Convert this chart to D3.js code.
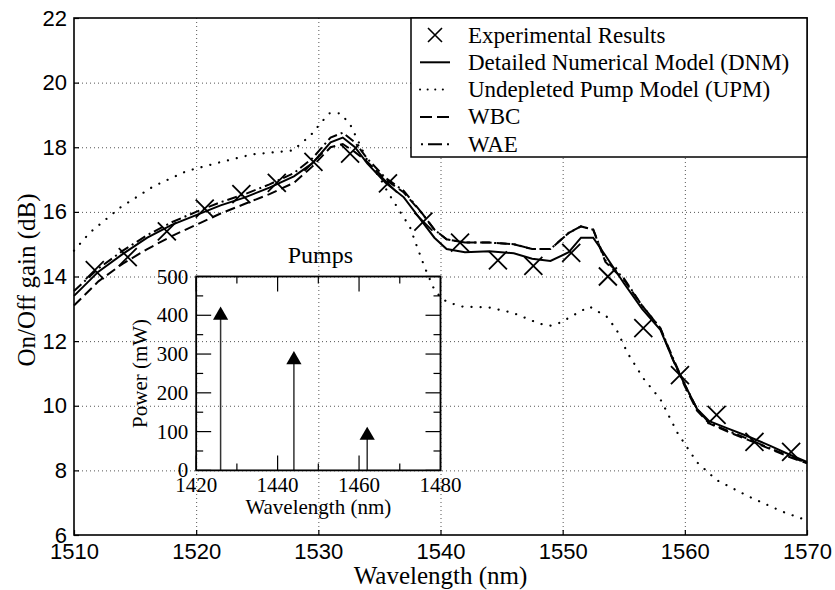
<!DOCTYPE html>
<html>
<head>
<meta charset="utf-8">
<script src="https://d3js.org/d3.v7.min.js"></script>
<style>
  body { margin: 0; background: #fff; }
  svg { font-family: "Liberation Serif", "Times New Roman", serif; }
</style>
</head>
<body>
<svg></svg>
<script>
const w = 835;
const h = 590;
const margin = { left: 74, right: 28, top: 18, bottom: 55 };

// experimental points
const expWl = [1511.7, 1514.4, 1517.6, 1520.7, 1523.7, 1526.6, 1529.6, 1532.6, 1535.7, 1538.6,
    1541.6, 1544.7, 1547.6, 1550.7, 1553.7, 1556.6, 1559.6, 1562.6, 1565.7, 1568.7];
const expGain = [14.2, 14.6, 15.4, 16.1, 16.55, 16.9, 17.55, 17.8, 16.88, 15.7,
    15.05, 14.5, 14.33, 14.73, 14.0, 12.4, 10.95, 9.72, 8.88, 8.57];

// model curves share one wavelength grid
const modelWl = [1510, 1512, 1514, 1516, 1518, 1520, 1522, 1524, 1526, 1528, 1529.5, 1531, 1532, 1533,
    1534, 1535.5, 1537, 1538.5, 1539.5, 1540.5, 1542, 1544, 1546, 1547.5, 1549, 1550.5, 1551.5,
    1552.5, 1553.5, 1555, 1556.5, 1558, 1559, 1560, 1561, 1562, 1563.5, 1565, 1567, 1568.5, 1570];
const dnmGain = [13.4, 14.15, 14.7, 15.2, 15.6, 15.9, 16.2, 16.45, 16.75, 17.1, 17.5, 18.15, 18.3, 18.0,
    17.5, 16.9, 16.45, 15.7, 15.2, 14.85, 14.75, 14.78, 14.72, 14.55, 14.48, 14.75, 15.2,
    15.2, 14.65, 13.8, 13.0, 12.35, 11.45, 10.65, 9.9, 9.52, 9.3, 9.08, 8.76, 8.5, 8.26];
const wbcGain = [13.1, 13.85, 14.4, 14.85, 15.25, 15.6, 15.95, 16.25, 16.55, 16.9, 17.4, 18.0, 18.1, 17.85,
    17.55, 17.0, 16.6, 15.95, 15.45, 15.15, 15.05, 15.05, 15.0, 14.85, 14.85, 15.35, 15.55,
    15.45, 14.45, 13.9, 13.1, 12.4, 11.45, 10.6, 9.85, 9.45, 9.2, 8.97, 8.66, 8.42, 8.22];
const waeGain = [13.55, 14.25, 14.8, 15.28, 15.68, 16.0, 16.3, 16.55, 16.85, 17.2, 17.65, 18.3, 18.45, 18.15,
    17.65, 17.05, 16.65, 15.95, 15.45, 15.15, 15.05, 15.05, 15.0, 14.85, 14.85, 15.35, 15.55,
    15.45, 14.5, 13.95, 13.1, 12.4, 11.5, 10.65, 9.9, 9.47, 9.23, 9.0, 8.68, 8.45, 8.23];

// undepleted pump model
const upmWl = [1510, 1511.3, 1513.8, 1516.5, 1519.2, 1521.9, 1524.6, 1527.9, 1528.7, 1529.6, 1530.1,
    1530.9, 1531.8, 1532.6, 1533.3, 1534.0, 1535.0, 1535.7, 1536.6, 1537.5, 1538.1, 1538.7, 1539.4,
    1540.0, 1540.6, 1541.8, 1544.0, 1545.9, 1548.1, 1549.0, 1549.8, 1551.4, 1552.2, 1553.6, 1554.4,
    1555.3, 1556.6, 1558.0, 1559.4, 1561.0, 1562.6, 1565.3, 1568.0, 1570];
const upmGain = [14.8, 15.36, 16.14, 16.79, 17.26, 17.53, 17.78, 17.9, 18.15, 18.46, 18.71,
    19.05, 19.05, 18.71, 18.16, 17.6, 17.08, 16.6, 16.06, 15.53, 14.9, 14.29, 13.67,
    13.35, 13.2, 13.07, 13.04, 12.88, 12.54, 12.48, 12.57, 12.91, 13.07, 12.76, 12.36,
    11.64, 10.85, 10.2, 9.16, 8.25, 7.7, 7.18, 6.72, 6.45];

// pumps (inset)
const pumpWl = [1426, 1444, 1462];
const pumpPower = [400, 285, 90];

const xTicks = [1510, 1520, 1530, 1540, 1550, 1560, 1570];
const yTicks = [6, 8, 10, 12, 14, 16, 18, 20, 22];
const insetXTicks = [1420, 1440, 1460, 1480];
const insetYTicks = [0, 100, 200, 300, 400, 500];

const legendLabels = ['Experimental Results', 'Detailed Numerical Model (DNM)',
    'Undepleted Pump Model (UPM)', 'WBC', 'WAE'];

const svg = d3.select('svg').attr('width', w).attr('height', h);

const xScale = d3.scaleLinear().domain([1510, 1570]).range([margin.left, w - margin.right]);
const yScale = d3.scaleLinear().domain([6, 22]).range([h - margin.bottom, margin.top]);

const dashStyles = {
    dnm: null,
    upm: '0.1,9',
    wbc: '10,5',
    wae: '10,4,2,4'
};

// grid
svg.append('g')
    .attr('transform', 'translate(0,' + (h - margin.bottom) + ')')
    .call(d3.axisBottom(xScale).tickValues(xTicks.slice(1, -1)).tickSize(-(h - margin.top - margin.bottom)).tickFormat(''))
    .call((g) => g.select('.domain').remove())
    .selectAll('line').attr('stroke', '#555').attr('stroke-dasharray', '1,3');
svg.append('g')
    .attr('transform', 'translate(' + margin.left + ',0)')
    .call(d3.axisLeft(yScale).tickValues(yTicks.slice(1, -1)).tickSize(-(w - margin.left - margin.right)).tickFormat(''))
    .call((g) => g.select('.domain').remove())
    .selectAll('line').attr('stroke', '#555').attr('stroke-dasharray', '1,3');

// axes
const xAxis = svg.append('g')
    .attr('transform', 'translate(0,' + (h - margin.bottom) + ')')
    .call(d3.axisBottom(xScale).tickValues(xTicks).tickSize(-5).tickPadding(8).tickFormat(d3.format('d')));
const yAxis = svg.append('g')
    .attr('transform', 'translate(' + margin.left + ',0)')
    .call(d3.axisLeft(yScale).tickValues(yTicks).tickSize(-5).tickPadding(7).tickFormat(d3.format('d')));
[xAxis, yAxis].forEach((g) => {
    g.selectAll('text').attr('font-size', 22).attr('font-family', null).attr('fill', '#000');
    g.selectAll('line').attr('stroke', '#000').attr('stroke-width', 1.2);
    g.select('.domain').remove();
});

svg.append('rect')
    .attr('x', margin.left).attr('y', margin.top)
    .attr('width', w - margin.left - margin.right)
    .attr('height', h - margin.top - margin.bottom)
    .attr('fill', 'none').attr('stroke', '#000').attr('stroke-width', 1.6);

svg.append('text')
    .attr('x', (margin.left + w - margin.right) / 2).attr('y', 584)
    .attr('text-anchor', 'middle').attr('font-size', 25)
    .text('Wavelength (nm)');
svg.append('text')
    .attr('transform', 'translate(35,' + 280 + ') rotate(-90)')
    .attr('text-anchor', 'middle').attr('font-size', 25)
    .text('On/Off gain (dB)');

// inset
const ix = d3.scaleLinear().domain([1420, 1480]).range([xScale(1520), xScale(1540)]);
const iy = d3.scaleLinear().domain([0, 500]).range([yScale(8), yScale(14)]);
const inset = svg.append('g');
const iL = ix.range()[0], iR = ix.range()[1], iB = iy.range()[0], iT = iy.range()[1];

const insetMinorX = [1430, 1450, 1470];
const insetMinorY = [50, 150, 250, 350, 450];
insetXTicks.concat(insetMinorX).forEach((v) => {
    const len = insetXTicks.includes(v) ? 15 : 7;
    inset.append('line').attr('x1', ix(v)).attr('x2', ix(v)).attr('y1', iB).attr('y2', iB - len).attr('stroke', '#000').attr('stroke-width', 1.2);
    inset.append('line').attr('x1', ix(v)).attr('x2', ix(v)).attr('y1', iT).attr('y2', iT + len).attr('stroke', '#000').attr('stroke-width', 1.2);
});
insetYTicks.concat(insetMinorY).forEach((v) => {
    const len = insetYTicks.includes(v) ? 15 : 7;
    inset.append('line').attr('x1', iL).attr('x2', iL + len).attr('y1', iy(v)).attr('y2', iy(v)).attr('stroke', '#000').attr('stroke-width', 1.2);
    inset.append('line').attr('x1', iR).attr('x2', iR - len).attr('y1', iy(v)).attr('y2', iy(v)).attr('stroke', '#000').attr('stroke-width', 1.2);
});
inset.selectAll('.xl').data(insetXTicks).enter().append('text')
    .attr('x', (d) => ix(d)).attr('y', iB + 22)
    .attr('text-anchor', 'middle').attr('font-size', 21).text((d) => d);
inset.selectAll('.yl').data(insetYTicks).enter().append('text')
    .attr('x', iL - 8).attr('y', (d) => iy(d) + 7)
    .attr('text-anchor', 'end').attr('font-size', 21).text((d) => d);

inset.selectAll('.stem').data(pumpWl).enter().append('line')
    .attr('x1', (d) => ix(d)).attr('x2', (d) => ix(d))
    .attr('y1', iy(0)).attr('y2', (d, i) => iy(pumpPower[i]))
    .attr('stroke', '#333').attr('stroke-width', 1.5);
inset.selectAll('.tri').data(pumpWl).enter().append('path')
    .attr('d', d3.symbol(d3.symbolTriangle, 100))
    .attr('transform', (d, i) => 'translate(' + ix(d) + ',' + iy(pumpPower[i]) + ')')
    .attr('fill', '#000');

inset.append('rect')
    .attr('x', iL).attr('y', iT).attr('width', iR - iL).attr('height', iB - iT)
    .attr('fill', 'none').attr('stroke', '#000').attr('stroke-width', 1.8);
inset.append('text')
    .attr('x', (iL + iR) / 2 + 2).attr('y', iT - 14)
    .attr('text-anchor', 'middle').attr('font-size', 24).text('Pumps');
inset.append('text')
    .attr('x', (iL + iR) / 2).attr('y', 514)
    .attr('text-anchor', 'middle').attr('font-size', 21).text('Wavelength (nm)');
inset.append('text')
    .attr('transform', 'translate(147,' + (iT + iB) / 2 + ') rotate(-90)')
    .attr('text-anchor', 'middle').attr('font-size', 21).text('Power (mW)');

// curves
const line = d3.line().x((d) => xScale(d[0])).y((d) => yScale(d[1]));
const curves = [
    { key: 'upm', wl: upmWl, g: upmGain, width: 2.2 },
    { key: 'wbc', wl: modelWl, g: wbcGain, width: 2 },
    { key: 'wae', wl: modelWl, g: waeGain, width: 2 },
    { key: 'dnm', wl: modelWl, g: dnmGain, width: 2 }
];
curves.forEach((c) => {
    svg.append('path')
        .datum(c.wl.map((v, i) => [v, c.g[i]]))
        .attr('d', line)
        .attr('fill', 'none').attr('stroke', '#000')
        .attr('stroke-width', c.width)
        .attr('stroke-linecap', c.key === 'upm' ? 'round' : 'butt')
        .attr('stroke-dasharray', dashStyles[c.key]);
});

const xMark = (s) => 'M' + -s + ',' + -s + 'L' + s + ',' + s + 'M' + -s + ',' + s + 'L' + s + ',' + -s;
svg.selectAll('.exp').data(expWl).enter().append('path')
    .attr('d', xMark(9))
    .attr('transform', (d, i) => 'translate(' + xScale(d) + ',' + yScale(expGain[i]) + ')')
    .attr('stroke', '#000').attr('stroke-width', 1.8).attr('fill', 'none');

// legend
const lg = svg.append('g');
lg.append('rect').attr('x', 411).attr('y', margin.top).attr('width', w - margin.right - 411).attr('height', 139)
    .attr('fill', '#fff').attr('stroke', '#000').attr('stroke-width', 1.5);
const legendKeys = ['exp', 'dnm', 'upm', 'wbc', 'wae'];
const legendDash = { dnm: null, upm: '0.1,7.5', wbc: '12,5', wae: '2,5,14,5,2' };
legendKeys.forEach((k, i) => {
    const cy = 35 + i * 27.3;
    if (k === 'exp') {
        lg.append('path').attr('d', xMark(7)).attr('transform', 'translate(435,' + cy + ')')
            .attr('stroke', '#000').attr('stroke-width', 1.6).attr('fill', 'none');
    } else {
        lg.append('line').attr('x1', k === 'wae' ? 421 : 420).attr('x2', 450).attr('y1', cy).attr('y2', cy)
            .attr('stroke', '#000').attr('stroke-width', 2)
            .attr('stroke-linecap', k === 'upm' ? 'round' : 'butt')
            .attr('stroke-dasharray', legendDash[k]);
    }
    lg.append('text').attr('x', 468).attr('y', cy + 7.5).attr('font-size', 23).text(legendLabels[i]);
});
</script>
</body>
</html>
